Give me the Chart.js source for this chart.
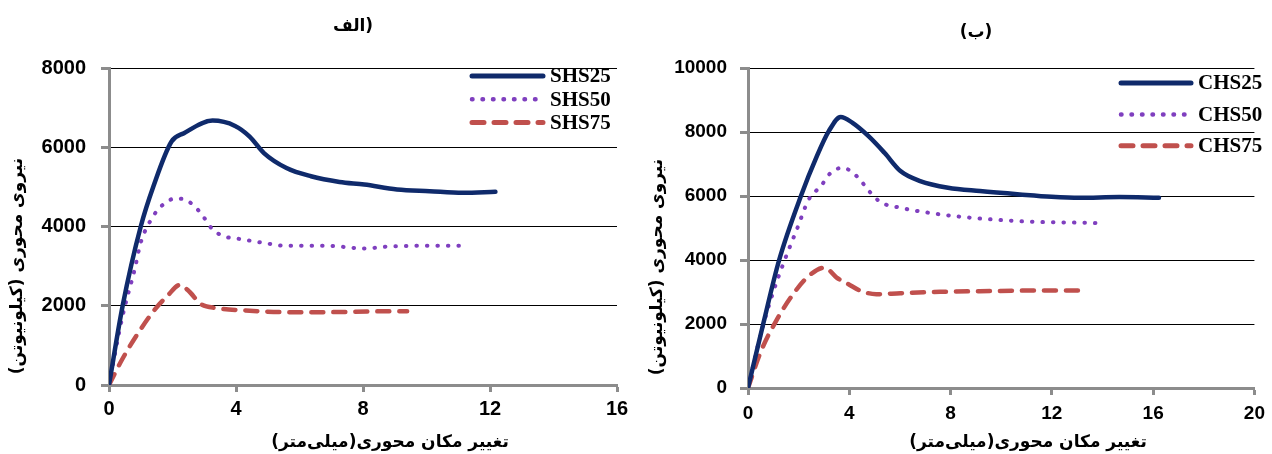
<!DOCTYPE html>
<html lang="fa">
<head>
<meta charset="utf-8">
<title>نیروی محوری - تغییر مکان محوری</title>
<script src="https://cdn.jsdelivr.net/npm/chart.js@4.4.0/dist/chart.umd.min.js"></script>
<style>
  html, body { margin: 0; padding: 0; background: #fff; }
  .panel { position: absolute; top: 0; width: 636px; height: 454px; }
</style>
</head>
<body>
<div class="panel" style="left:0"><canvas id="chartA" width="636" height="454"></canvas></div>
<div class="panel" style="left:636px"><canvas id="chartB" width="636" height="454"></canvas></div>
<script>
// (الف) square sections
var shs25Disp = [0, 0.43, 1.0, 1.4, 1.97, 2.36, 3.26, 3.97, 4.43, 4.88, 5.59, 6.36, 7.26, 8.04, 9.07, 10.1, 11.14, 12.17];
var shs25Force = [0, 2000, 4000, 5016, 6145, 6355, 6672, 6538, 6270, 5853, 5476, 5268, 5125, 5058, 4933, 4890, 4850, 4875];
var shs50Disp = [0, 0.43, 0.81, 1.0, 1.33, 1.65, 2.1, 2.49, 2.88, 3.26, 3.59, 4.17, 4.81, 5.59, 6.88, 8.04, 8.81, 10.1, 11.07];
var shs50Force = [0, 1750, 2926, 3595, 4180, 4515, 4707, 4640, 4348, 3930, 3763, 3679, 3595, 3512, 3512, 3445, 3495, 3512, 3512];
var shs75Disp = [0, 0.43, 0.94, 1.46, 1.85, 2.23, 2.55, 2.88, 3.39, 4.3, 5.59, 6.88, 8.17, 9.39];
var shs75Force = [0, 669, 1338, 1923, 2257, 2525, 2341, 2048, 1940, 1881, 1839, 1839, 1856, 1864];

// (ب) circular sections
var chs25Disp = [0, 0.6, 1.23, 2.09, 2.72, 3.19, 3.66, 4.13, 4.76, 5.39, 6.02, 6.8, 7.9, 9.16, 10.73, 11.99, 13.09, 14.66, 16.23];
var chs25Force = [0, 2000, 4000, 6000, 7245, 8025, 8472, 8285, 7869, 7349, 6778, 6466, 6258, 6154, 6050, 5977, 5946, 5967, 5946];
var chs50Disp = [0, 0.52, 0.99, 1.46, 1.93, 2.4, 2.88, 3.27, 3.74, 4.29, 4.84, 5.23, 6.02, 7.12, 8.37, 9.94, 11.52, 13.09, 14.03];
var chs50Force = [0, 1736, 2983, 4023, 4958, 5894, 6310, 6726, 6881, 6622, 6102, 5811, 5634, 5478, 5353, 5250, 5187, 5166, 5146];
var chs75Disp = [0, 0.52, 1.15, 1.78, 2.4, 3.03, 3.5, 3.97, 4.45, 5.07, 6.02, 7.59, 9.16, 11.52, 13.09];
var chs75Force = [0, 1164, 2152, 2931, 3503, 3763, 3451, 3243, 3035, 2931, 2963, 3004, 3025, 3046, 3046];

var seriesLabelsA = ['SHS25', 'SHS50', 'SHS75'];
var seriesLabelsB = ['CHS25', 'CHS50', 'CHS75'];
var panelTitles = ['(الف', '(ب)'];
var xAxisTitle = 'تغییر مکان محوری(میلی‌متر)';
var yAxisTitle = 'نیروی محوری (کیلونیوتن)';

function points(xs, ys) {
  return xs.map(function (x, i) { return { x: x, y: ys[i] }; });
}

var lineStyles = [
  { borderColor: '#0f2a6b', borderWidth: 4.5, borderDash: [], borderCapStyle: 'round' },
  { borderColor: '#7f3fbf', borderWidth: 4, borderDash: [0.5, 10], borderCapStyle: 'round' },
  { borderColor: '#c0504d', borderWidth: 4.5, borderDash: [12, 10], borderCapStyle: 'round' }
];

function makeDatasets(labels, series) {
  return series.map(function (s, i) {
    var st = lineStyles[i];
    return {
      label: labels[i],
      data: points(s[0], s[1]),
      borderColor: st.borderColor,
      borderWidth: st.borderWidth,
      borderDash: st.borderDash,
      borderCapStyle: st.borderCapStyle,
      borderJoinStyle: 'round',
      pointRadius: 0,
      fill: false,
      cubicInterpolationMode: 'monotone'
    };
  });
}

// draws panel title, axis titles and legend
var panelText = {
  id: 'panelText',
  afterDraw: function (chart, args, o) {
    var ctx = chart.ctx;
    ctx.save();
    ctx.fillStyle = '#000';
    ctx.textBaseline = 'middle';
    ctx.textAlign = 'center';
    ctx.direction = 'rtl';
    ctx.font = 'bold 17px "DejaVu Sans"';
    ctx.fillText(o.title, o.titleX, o.titleY);
    ctx.fillText(xAxisTitle, o.xTitleX, o.xTitleY);
    ctx.save();
    ctx.translate(o.yTitleX, o.yTitleY);
    ctx.rotate(-Math.PI / 2);
    ctx.fillText(yAxisTitle, 0, 0);
    ctx.restore();

    ctx.direction = 'ltr';
    ctx.textAlign = 'left';
    ctx.font = 'bold 21px "Liberation Serif"';
    chart.data.datasets.forEach(function (ds, i) {
      var y = o.legendY + i * o.legendStep;
      ctx.beginPath();
      ctx.strokeStyle = ds.borderColor;
      ctx.lineWidth = ds.borderWidth + 0.5;
      ctx.lineCap = ds.borderCapStyle;
      ctx.setLineDash(ds.borderDash);
      ctx.moveTo(o.legendX, y);
      ctx.lineTo(o.legendX + o.legendLen, y);
      ctx.stroke();
      ctx.setLineDash([]);
      ctx.fillText(ds.label, o.legendX + o.legendLen + 7, y + 1);
    });
    ctx.restore();
  }
};

function plainTick(v) { return String(v); }

function makeChart(id, datasets, cfg) {
  var tickFont = { family: '"Liberation Sans"', weight: 'bold', size: cfg.tickSize };
  return new Chart(document.getElementById(id).getContext('2d'), {
    type: 'line',
    data: { datasets: datasets },
    options: {
      responsive: false,
      animation: false,
      layout: { padding: { left: 0, top: cfg.top, right: cfg.right, bottom: 0 } },
      scales: {
        x: {
          type: 'linear', min: 0, max: cfg.xMax,
          ticks: { stepSize: 4, font: tickFont, color: '#000', padding: cfg.xPad, maxRotation: 0, callback: plainTick },
          grid: { drawOnChartArea: false, drawTicks: true, tickLength: 7, tickColor: '#8c8c8c', tickWidth: 3 },
          border: { color: '#8c8c8c', width: 3 },
          afterFit: function (s) { s.height = cfg.xHeight; }
        },
        y: {
          type: 'linear', min: 0, max: cfg.yMax,
          ticks: { stepSize: 2000, font: tickFont, color: '#000', padding: cfg.yPad, callback: plainTick },
          grid: { color: '#000', lineWidth: 1, tickLength: 8, tickColor: '#8c8c8c', tickWidth: 3 },
          border: { color: '#8c8c8c', width: 3 },
          afterFit: function (s) { s.width = cfg.yWidth; }
        }
      },
      plugins: {
        legend: { display: false },
        tooltip: { enabled: false },
        panelText: cfg.text
      }
    },
    plugins: [panelText]
  });
}

makeChart('chartA', makeDatasets(seriesLabelsA, [
  [shs25Disp, shs25Force], [shs50Disp, shs50Force], [shs75Disp, shs75Force]
]), {
  xMax: 16, yMax: 8000, top: 68, right: 19, yWidth: 109, xHeight: 69,
  tickSize: 20, xPad: 5, yPad: 15,
  text: {
    title: panelTitles[0], titleX: 353, titleY: 27,
    xTitleX: 390, xTitleY: 443, yTitleX: 18, yTitleY: 266,
    legendX: 472, legendLen: 71, legendY: 76, legendStep: 23.3
  }
});

makeChart('chartB', makeDatasets(seriesLabelsB, [
  [chs25Disp, chs25Force], [chs50Disp, chs50Force], [chs75Disp, chs75Force]
]), {
  xMax: 20, yMax: 10000, top: 68, right: 10, yWidth: 112, xHeight: 66,
  tickSize: 19, xPad: 7, yPad: 13,
  text: {
    title: panelTitles[1], titleX: 340, titleY: 33,
    xTitleX: 392, xTitleY: 443, yTitleX: 22, yTitleY: 267,
    legendX: 485, legendLen: 70, legendY: 83, legendStep: 31.4
  }
});
</script>
</body>
</html>
